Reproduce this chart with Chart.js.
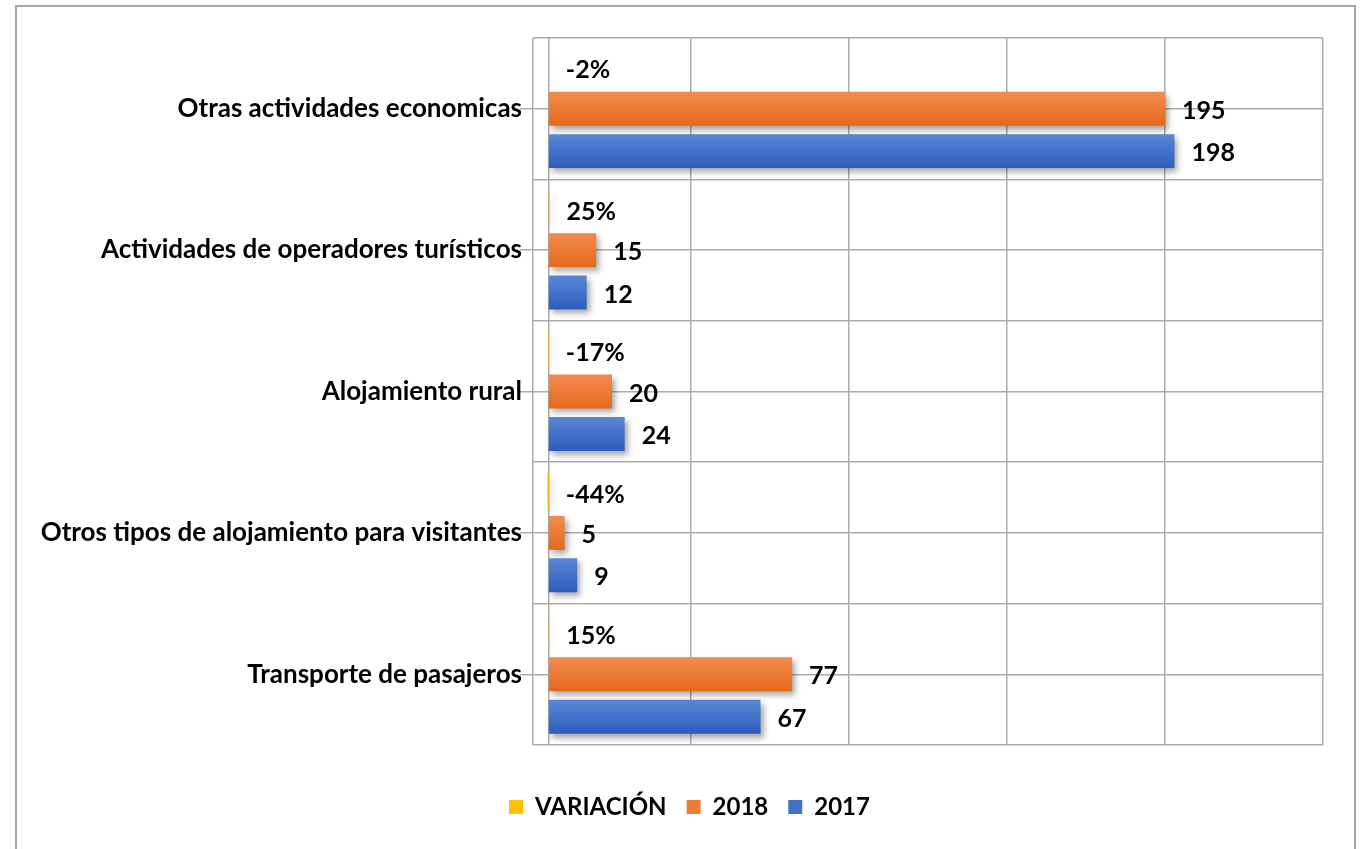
<!DOCTYPE html>
<html>
<head>
<meta charset="utf-8">
<script src="https://cdn.jsdelivr.net/npm/chart.js@4/dist/chart.umd.min.js"></script>
<style>
  body { margin: 0; background: #fff; overflow: hidden; }
  #frame { position: absolute; left: 15px; top: 5px; width: 1337px; height: 870px; border: 2px solid #a6a6a6; }
  #wrap { position: absolute; left: 0; top: 0; width: 1363px; height: 849px; }
</style>
</head>
<body>
<div id="frame"></div>
<div id="wrap"><canvas id="chart"></canvas></div>
<script>
// Categories, top to bottom
const categories = [
  'Otras actividades economicas',
  'Actividades de operadores turísticos',
  'Alojamiento rural',
  'Otros tipos de alojamiento para visitantes',
  'Transporte de pasajeros'
];
const variacion = [-0.02, 0.25, -0.17, -0.44, 0.15];
const values2018 = [195, 15, 20, 5, 77];
const values2017 = [198, 12, 24, 9, 67];
const seriesNames = ['VARIACIÓN', '2018', '2017'];

const FONT = 'Lato, "Open Sans", sans-serif';
const gridColor = '#ababab';

// Vertical gradient per bar, from the category scale
function barGradient(top, bottom, dsIndex) {
  return function(ctx) {
    const chart = ctx.chart;
    const y = chart.scales.y;
    if (!y || ctx.dataIndex === undefined) return bottom;
    const cat = y.getPixelForValue(ctx.dataIndex);
    const catH = Math.abs(y.getPixelForValue(1) - y.getPixelForValue(0));
    if (!isFinite(cat) || !isFinite(catH) || catH === 0) return bottom;
    const slot = catH * 0.9 / 3;
    const c = cat + (dsIndex - 1) * slot;
    const h = slot * 0.8 / 2;
    const g = chart.ctx.createLinearGradient(0, c - h, 0, c + h);
    g.addColorStop(0, top);
    g.addColorStop(1, bottom);
    return g;
  };
}

// Zero line, shadows and value labels
const extras = {
  id: 'extras',
  afterLayout(chart) {
    // legend sits a little right of centre in the original
    chart.legend.left += 28;
    chart.legend.right += 28;
  },
  beforeDatasetsDraw(chart) {
    const { ctx, chartArea, scales } = chart;
    const x0 = scales.x.getPixelForValue(0);
    ctx.save();
    ctx.strokeStyle = gridColor;
    ctx.lineWidth = 1.5;
    ctx.beginPath();
    ctx.moveTo(x0, chartArea.top);
    ctx.lineTo(x0, chartArea.bottom);
    ctx.stroke();
    ctx.restore();
    ctx.save();
    ctx.shadowColor = 'rgba(0,0,0,0.35)';
    ctx.shadowBlur = 6;
    ctx.shadowOffsetX = 3;
    ctx.shadowOffsetY = 4;
  },
  afterDatasetsDraw(chart) {
    const { ctx } = chart;
    ctx.restore();
    ctx.save();
    ctx.fillStyle = '#000';
    ctx.font = 'bold 25px ' + FONT;
    ctx.textAlign = 'left';
    ctx.textBaseline = 'middle';
    chart.data.datasets.forEach((ds, di) => {
      const meta = chart.getDatasetMeta(di);
      meta.data.forEach((el, i) => {
        const v = ds.data[i];
        const txt = di === 0 ? Math.round(v * 100) + '%' : String(v);
        const dy = di === 0 ? 4 : 2;
        ctx.fillText(txt, Math.max(el.x, el.base) + 17, el.y + dy);
      });
    });
    ctx.restore();
  }
};

new Chart(document.getElementById('chart'), {
  type: 'bar',
  data: {
    labels: categories,
    datasets: [
      { label: seriesNames[0], data: variacion, backgroundColor: '#ffc000' },
      { label: seriesNames[1], data: values2018, backgroundColor: barGradient('#f28c4e', '#e2691b', 1) },
      { label: seriesNames[2], data: values2017, backgroundColor: barGradient('#5b86d6', '#2d5cbd', 2) }
    ]
  },
  options: {
    indexAxis: 'y',
    responsive: true,
    maintainAspectRatio: false,
    animation: false,
    categoryPercentage: 0.9,
    barPercentage: 0.8,
    layout: { padding: { top: 38, right: 40, bottom: 20, left: 0 } },
    plugins: {
      legend: {
        position: 'bottom',
        labels: {
          color: '#000',
          font: { family: FONT, size: 24, weight: 'bold' },
          boxWidth: 14,
          boxHeight: 14,
          padding: 20,
          generateLabels(chart) {
            const cols = ['#ffc000', '#ed7d31', '#4472c4'];
            return chart.data.datasets.map((ds, i) => ({
              text: ds.label, fillStyle: cols[i], strokeStyle: cols[i],
              lineWidth: 0, datasetIndex: i, fontColor: '#000'
            }));
          }
        }
      },
      tooltip: { enabled: false }
    },
    scales: {
      x: {
        min: -5,
        max: 245,
        ticks: { display: false, stepSize: 50 },
        grid: { color: gridColor, lineWidth: 1.5, drawTicks: false },
        border: { display: false },
        afterFit(scale) { scale.height = 30; }
      },
      y: {
        offset: true,
        ticks: {
          color: '#000',
          padding: -2,
          font: { family: FONT, size: 26, weight: 'bold' }
        },
        grid: { offset: false, color: gridColor, lineWidth: 1.5, tickLength: 13 },
        border: { display: false },
        afterFit(scale) { scale.width = 533; }
      },
      y2: {
        type: 'category',
        position: 'left',
        labels: categories,
        offset: true,
        ticks: { display: false },
        grid: { offset: true, color: gridColor, lineWidth: 1.5, drawTicks: false },
        border: { display: false },
        afterFit(scale) { scale.width = 0; }
      }
    }
  },
  plugins: [extras]
});
</script>
</body>
</html>
